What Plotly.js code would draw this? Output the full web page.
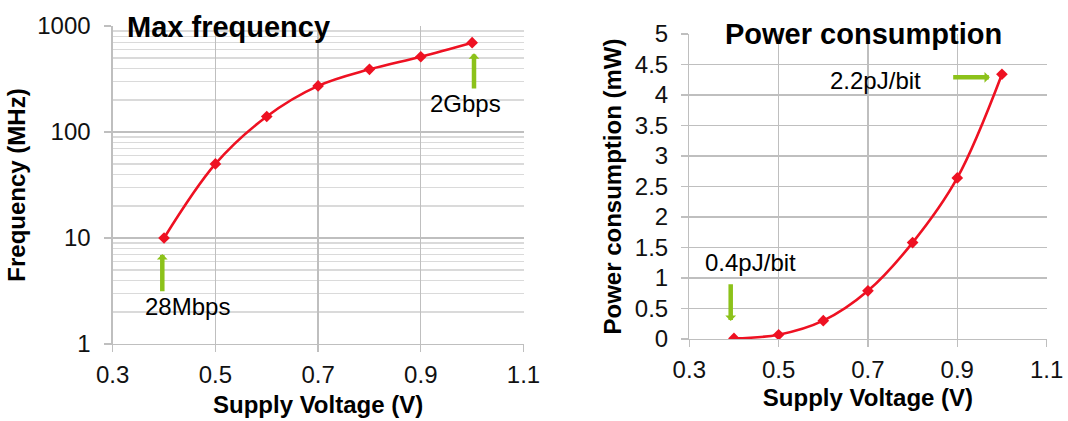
<!DOCTYPE html>
<html>
<head>
<meta charset="utf-8">
<script src="https://cdn.plot.ly/plotly-3.0.1.min.js"></script>
<style>html,body{margin:0;padding:0;background:#fff;}#chart{width:1068px;height:421px;}</style>
</head>
<body>
<div id="chart"></div>
<script>
// ---- data ----
const voltage = [0.4, 0.5, 0.6, 0.7, 0.8, 0.9, 1.0];
const maxFrequencyMHz = [10, 50, 140, 272, 390, 513, 696];
const powerMW = [0.01, 0.07, 0.30, 0.79, 1.58, 2.64, 4.34];
const xTickVals = [0.3, 0.5, 0.7, 0.9, 1.1];
const xTickText = ['0.3', '0.5', '0.7', '0.9', '1.1'];
const freqTickVals = [1, 10, 100, 1000];
const freqTickText = ['1', '10', '100', '1000'];
const powerTickVals = [0, 0.5, 1, 1.5, 2, 2.5, 3, 3.5, 4, 4.5, 5];
const powerTickText = ['0', '0.5', '1', '1.5', '2', '2.5', '3', '3.5', '4', '4.5', '5'];
const titles = ['Max frequency', 'Power consumption'];
const yTitles = ['Frequency (MHz)', 'Power consumption (mW)'];
const xTitle = 'Supply Voltage (V)';
const notes = ['28Mbps', '2Gbps', '0.4pJ/bit', '2.2pJ/bit'];

const RED = '#ee1122';
const GREEN = '#8cc21a';
const GRID = '#bfbfbf';
const MINOR = '#dadada';
const FONT = 'Arial, "Liberation Sans", sans-serif';
const L = Math.log10;

const lineStyle = {color: RED, width: 2.6, shape: 'spline', smoothing: 1};
const markerStyle = {symbol: 'diamond', size: 9, color: RED};

const traces = [
  {x: voltage, y: maxFrequencyMHz, xaxis: 'x', yaxis: 'y', type: 'scatter', mode: 'lines+markers',
   line: lineStyle, marker: markerStyle, showlegend: false, hoverinfo: 'x+y'},
  {x: voltage, y: powerMW, xaxis: 'x2', yaxis: 'y2', type: 'scatter', mode: 'lines+markers',
   line: lineStyle, marker: markerStyle, showlegend: false, hoverinfo: 'x+y'}
];

const tickFont = {family: FONT, size: 24, color: '#111'};
const titleFont = {family: FONT, size: 24, color: '#000', weight: 'bold'};

function xAxis(domain, anchor, standoff) {
  return {
    domain: domain, anchor: anchor, range: [0.3, 1.1],
    tickmode: 'array', tickvals: xTickVals, ticktext: xTickText,
    showgrid: true, gridcolor: GRID, gridwidth: 1.3,
    showline: true, linecolor: GRID, linewidth: 1.3, mirror: false,
    ticks: 'outside', ticklen: 7, tickcolor: GRID, tickwidth: 1.3,
    ticklabelstandoff: 2,
    tickfont: tickFont, zeroline: false,
    title: {text: xTitle, font: titleFont, standoff: standoff},
    fixedrange: true
  };
}

const layout = {
  width: 1068, height: 421,
  margin: {l: 0, r: 0, t: 0, b: 0},
  paper_bgcolor: '#fff', plot_bgcolor: '#fff',
  font: {family: FONT},
  showlegend: false,
  xaxis: xAxis([112.7 / 1068, 523.5 / 1068], 'y', 9),
  yaxis: {
    domain: [1 - 344 / 421, 1 - 26 / 421], anchor: 'x',
    type: 'log', range: [0, 3],
    tickmode: 'array', tickvals: freqTickVals, ticktext: freqTickText,
    showgrid: true, gridcolor: GRID, gridwidth: 1.3,
    minor: {dtick: 'D1', showgrid: true, gridcolor: MINOR, gridwidth: 1.3, ticks: ''},
    showline: true, linecolor: GRID, linewidth: 1.3,
    ticks: 'outside', ticklen: 7, tickcolor: GRID, tickwidth: 1.3,
    ticklabelstandoff: 9,
    tickfont: tickFont, zeroline: false,
    title: {text: yTitles[0], font: titleFont, standoff: 4},
    fixedrange: true
  },
  xaxis2: xAxis([689.3 / 1068, 1046.6 / 1068], 'y2', 7),
  yaxis2: {
    domain: [1 - 339 / 421, 1 - 34 / 421], anchor: 'x2',
    range: [0, 5],
    tickmode: 'array', tickvals: powerTickVals, ticktext: powerTickText,
    showgrid: true, gridcolor: GRID, gridwidth: 1.3,
    showline: true, linecolor: GRID, linewidth: 1.3,
    ticks: 'outside', ticklen: 7, tickcolor: GRID, tickwidth: 1.3,
    ticklabelstandoff: 8,
    tickfont: tickFont, zeroline: false,
    title: {text: yTitles[1], font: titleFont, standoff: 6},
    fixedrange: true
  },
  annotations: [
    // chart titles
    {text: titles[0], xref: 'paper', yref: 'paper', x: 228.3 / 1068, y: 1 - 27 / 421,
     xanchor: 'center', yanchor: 'middle', showarrow: false,
     font: {family: FONT, size: 29, color: '#000', weight: 'bold'}},
    {text: titles[1], xref: 'paper', yref: 'paper', x: 863.5 / 1068, y: 1 - 34 / 421,
     xanchor: 'center', yanchor: 'middle', showarrow: false,
     font: {family: FONT, size: 29, color: '#000', weight: 'bold'}},
    // left chart arrows
    {xref: 'x', yref: 'y', axref: 'x', ayref: 'y', x: 0.3966, y: L(7.06), ax: 0.3966, ay: L(3.05),
     text: '', showarrow: true, arrowhead: 1, arrowsize: 0.4, arrowwidth: 4.5, arrowcolor: GREEN, standoff: 0, startstandoff: 0},
    {xref: 'x', yref: 'y', axref: 'x', ayref: 'y', x: 1.0036, y: L(552), ax: 1.0036, ay: L(249),
     text: '', showarrow: true, arrowhead: 1, arrowsize: 0.4, arrowwidth: 4.5, arrowcolor: GREEN, standoff: 0, startstandoff: 0},
    {xref: 'x', yref: 'y', x: 0.4447, y: L(2.28), text: notes[0], showarrow: false,
     xanchor: 'center', yanchor: 'middle', font: {family: FONT, size: 24, color: '#000'}},
    {xref: 'x', yref: 'y', x: 0.9877, y: L(184), text: notes[1], showarrow: false,
     xanchor: 'center', yanchor: 'middle', font: {family: FONT, size: 24, color: '#000'}},
    // right chart arrows
    {xref: 'x2', yref: 'y2', axref: 'x2', ayref: 'y2', x: 0.3927, y: 0.295, ax: 0.3927, ay: 0.923,
     text: '', showarrow: true, arrowhead: 1, arrowsize: 0.4, arrowwidth: 4.5, arrowcolor: GREEN, standoff: 0, startstandoff: 0},
    {xref: 'x2', yref: 'y2', axref: 'x2', ayref: 'y2', x: 0.973, y: 4.29, ax: 0.8875, ay: 4.29,
     text: '', showarrow: true, arrowhead: 1, arrowsize: 0.4, arrowwidth: 4.5, arrowcolor: GREEN, standoff: 0, startstandoff: 0},
    {xref: 'x2', yref: 'y2', x: 0.4366, y: 1.254, text: notes[2], showarrow: false,
     xanchor: 'center', yanchor: 'middle', font: {family: FONT, size: 24, color: '#000'}},
    {xref: 'x2', yref: 'y2', x: 0.718, y: 4.23, text: notes[3], showarrow: false,
     xanchor: 'center', yanchor: 'middle', font: {family: FONT, size: 24, color: '#000'}}
  ]
};

Plotly.newPlot('chart', traces, layout, {displayModeBar: false, staticPlot: true});
</script>
</body>
</html>
